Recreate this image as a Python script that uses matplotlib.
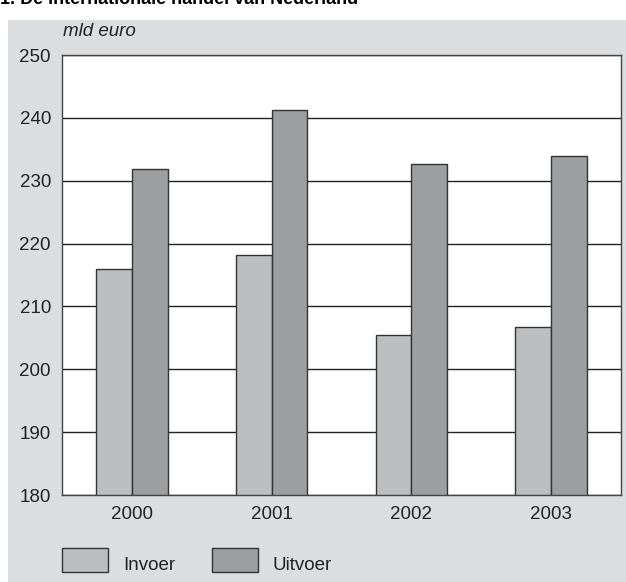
import numpy as np
import matplotlib
matplotlib.use("Agg")
import matplotlib.pyplot as plt
from matplotlib.patches import Rectangle

# Data (mld euro)
years = ["2000", "2001", "2002", "2003"]
invoer = [216.0, 218.2, 205.5, 206.8]
uitvoer = [231.8, 241.3, 232.7, 234.0]
series_labels = ["Invoer", "Uitvoer"]

plt.rcParams['font.family'] = ['Liberation Sans', 'DejaVu Sans']

c_in = "#bdbec0"
c_uit = "#9d9ea0"
c_bg = "#dcdddf"
c_edge = "#333333"
fs = 13.5

fig = plt.figure(figsize=(6.26, 5.82), dpi=100)

# grey panel behind the chart
fig.patches.append(Rectangle((8 / 626, 0), 1 - 8 / 626, (582 - 20) / 582,
                             transform=fig.transFigure, facecolor=c_bg,
                             edgecolor="none", zorder=-5))

# title, cut off at the top like the original
fig.text(0.0, 1.0, "1. De internationale handel van Nederland",
         fontsize=13, fontweight="bold", ha="left", va="center")

ax = fig.add_axes([62 / 626, (582 - 495) / 582, (621 - 62) / 626, (495 - 55) / 582])
ax.set_zorder(2)
ax.set_facecolor("white")

x = np.arange(len(years))
w = 0.255
ax.bar(x - w / 2, [v - 180 for v in invoer], w, bottom=180, color=c_in,
       edgecolor=c_edge, linewidth=1.0, zorder=3, label=series_labels[0])
ax.bar(x + w / 2, [v - 180 for v in uitvoer], w, bottom=180, color=c_uit,
       edgecolor=c_edge, linewidth=1.0, zorder=3, label=series_labels[1])

ax.set_ylim(180, 250)
ax.set_xlim(-0.5, 3.5)
ax.set_yticks(range(180, 251, 10))
ax.set_xticks(x)
ax.set_xticklabels(years)
ax.tick_params(axis="both", length=0, labelsize=fs, colors="#222222")
ax.tick_params(axis="x", pad=8)
ax.tick_params(axis="y", pad=8)
ax.yaxis.grid(True, color="#222222", linewidth=1.0, zorder=1)
ax.set_axisbelow(True)
for s in ax.spines.values():
    s.set_color("#444444")
    s.set_linewidth(1.0)

fig.text(63 / 626, 1 - 32 / 582, "mld euro", fontsize=fs, style="italic",
         ha="left", va="center", color="#222222")

# legend drawn by hand as boxes + labels
for i, (lab, col) in enumerate(zip(series_labels, [c_in, c_uit])):
    x0 = 62 + i * 150
    fig.patches.append(Rectangle((x0 / 626, 1 - 572 / 582), 46 / 626, 24 / 582,
                                 transform=fig.transFigure, facecolor=col,
                                 edgecolor=c_edge, linewidth=1.0, zorder=2))
    fig.text((x0 + 61) / 626, 1 - 566 / 582, lab, fontsize=fs,
             ha="left", va="center", color="#222222")

fig.savefig("out.png", dpi=100)
